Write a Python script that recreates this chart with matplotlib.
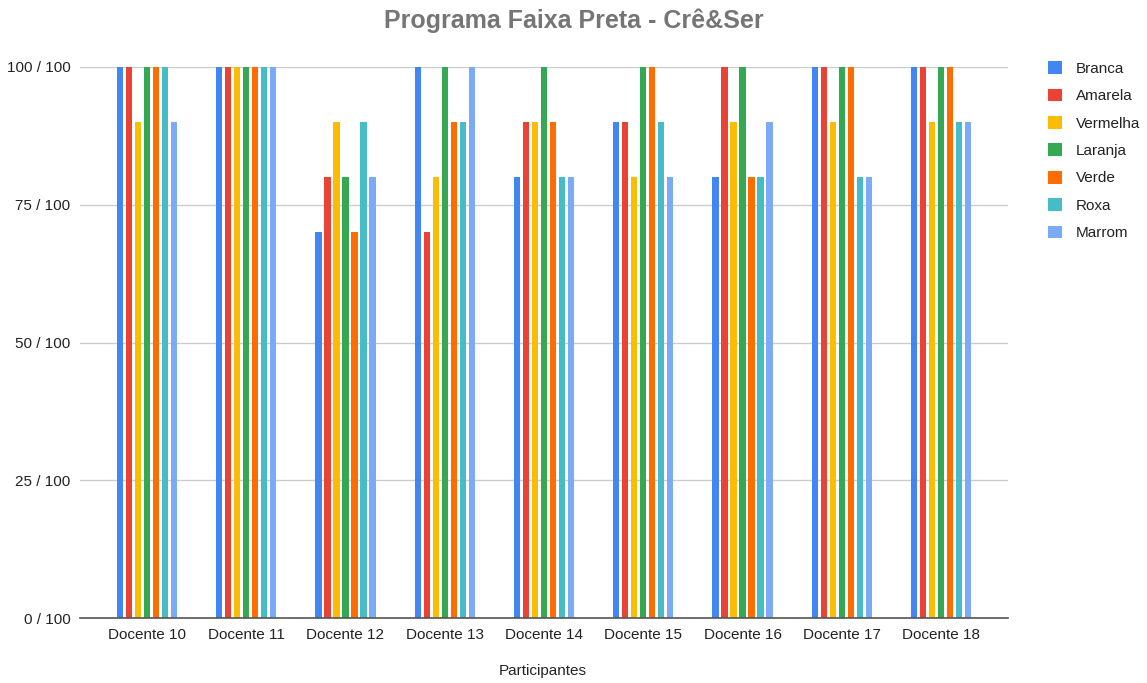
import numpy as np
import matplotlib
matplotlib.use("Agg")
import matplotlib.pyplot as plt

plt.rcParams["font.family"] = ["Liberation Sans", "DejaVu Sans"]

participants = ["Docente 10", "Docente 11", "Docente 12", "Docente 13", "Docente 14",
                "Docente 15", "Docente 16", "Docente 17", "Docente 18"]
series_names = ["Branca", "Amarela", "Vermelha", "Laranja", "Verde", "Roxa", "Marrom"]
branca = [100, 100, 70, 100, 80, 90, 80, 100, 100]
amarela = [100, 100, 80, 70, 90, 90, 100, 100, 100]
vermelha = [90, 100, 90, 80, 90, 80, 90, 90, 90]
laranja = [100, 100, 80, 100, 100, 100, 100, 100, 100]
verde = [100, 100, 70, 90, 90, 100, 80, 100, 100]
roxa = [100, 100, 90, 90, 80, 90, 80, 80, 90]
marrom = [90, 100, 80, 100, 80, 80, 90, 80, 90]
colors = ["#4285F4", "#EA4335", "#FBBC04", "#34A853", "#FF6D01", "#46BDC6", "#7BAAF7"]

series = [branca, amarela, vermelha, laranja, verde, roxa, marrom]

fig = plt.figure(figsize=(11.47, 6.83), dpi=100)
W, H = 1147, 683
ax = fig.add_axes([80 / W, (H - 618) / H, (1008 - 80) / W, (618 - 67) / H])

x = np.arange(len(participants))
step = 0.0905
width = 0.062
for k, (name, vals, c) in enumerate(zip(series_names, series, colors)):
    offset = (k - 3) * step
    ax.bar(x + offset, vals, width=width, color=c, label=name, zorder=3, clip_on=False)

ax.set_xlim(-0.675, 8.675)
ax.set_ylim(0, 100)
ax.set_yticks([0, 25, 50, 75, 100])
ax.set_yticklabels([f"{v} / 100" for v in [0, 25, 50, 75, 100]])
ax.set_xticks(x)
ax.set_xticklabels(participants)
ax.tick_params(axis="both", length=0, labelsize=11, colors="#222222", pad=7)
ax.grid(axis="y", color="#cccccc", linewidth=1, zorder=0)
for s in ["top", "right", "left"]:
    ax.spines[s].set_visible(False)
ax.spines["bottom"].set_color("#555555")
ax.spines["bottom"].set_linewidth(1.2)
ax.spines["bottom"].set_zorder(4)

fig.text(543 / W, 1 - 671 / H, "Participantes", ha="center", va="center",
         fontsize=11, color="#222222")

fig.text(0.5, 1 - 21 / H, "Programa Faixa Preta - Crê&Ser", ha="center", va="center",
         fontsize=18, fontweight="bold", color="#757575")

leg = ax.legend(loc="upper left", bbox_to_anchor=(1042 / W, 1 - 55 / H),
                bbox_transform=fig.transFigure, frameon=False, fontsize=11,
                handlelength=0.9, handleheight=0.9, handletextpad=0.9,
                labelspacing=0.84, borderaxespad=0)
for t in leg.get_texts():
    t.set_color("#222222")

fig.savefig("out.png", dpi=100, facecolor="white")
